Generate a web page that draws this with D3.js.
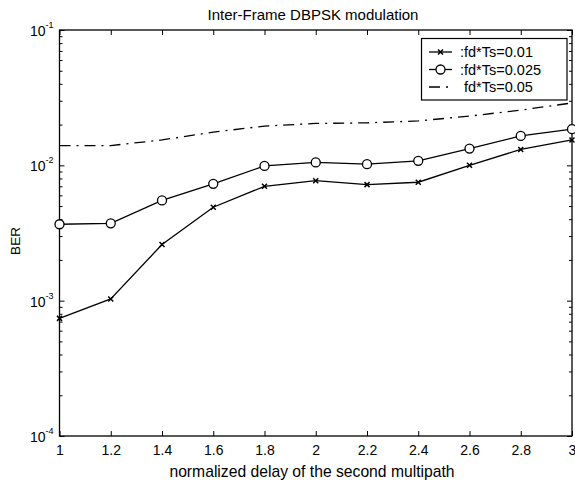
<!DOCTYPE html>
<html>
<head>
<meta charset="utf-8">
<script src="https://cdn.jsdelivr.net/npm/d3@7"></script>
<style>
  html, body { margin: 0; padding: 0; background: #fff; }
  svg { display: block; }
  text { font-family: "Liberation Sans", Arial, sans-serif; fill: #000; }
</style>
</head>
<body>
<svg id="chart" width="575" height="482"></svg>
<script>
// ---- data ----
const delays = [1, 1.2, 1.4, 1.6, 1.8, 2, 2.2, 2.4, 2.6, 2.8, 3];
const berFd001  = [7.4e-4, 1.03e-3, 2.6e-3, 4.9e-3, 7.0e-3, 7.7e-3, 7.2e-3, 7.5e-3, 1.0e-2, 1.31e-2, 1.54e-2];
const berFd0025 = [3.67e-3, 3.73e-3, 5.5e-3, 7.3e-3, 9.9e-3, 1.05e-2, 1.02e-2, 1.08e-2, 1.33e-2, 1.65e-2, 1.85e-2];
const berFd005  = [1.40e-2, 1.40e-2, 1.54e-2, 1.76e-2, 1.95e-2, 2.04e-2, 2.06e-2, 2.13e-2, 2.31e-2, 2.56e-2, 2.89e-2];
const seriesNames = [":fd*Ts=0.01", ":fd*Ts=0.025", "fd*Ts=0.05"];
const xTickValues = [1, 1.2, 1.4, 1.6, 1.8, 2, 2.2, 2.4, 2.6, 2.8, 3];
const xTickLabels = ["1", "1.2", "1.4", "1.6", "1.8", "2", "2.2", "2.4", "2.6", "2.8", "3"];
const yTickValues = [1e-4, 1e-3, 1e-2, 1e-1];
const yTickExponents = ["-4", "-3", "-2", "-1"];
const titleText = "Inter-Frame DBPSK modulation";
const xLabelText = "normalized delay of the second multipath";
const yLabelText = "BER";

// ---- layout ----
const L = 59.5, R = 572, T = 30, B = 436;
const svg = d3.select("#chart");
const x = d3.scaleLinear().domain([1, 3]).range([L, R]);
const y = d3.scaleLog().domain([1e-4, 1e-1]).range([B, T]);

// minor log ticks
const minorY = [];
[1e-4, 1e-3, 1e-2].forEach(d => { for (let k = 2; k <= 9; k++) minorY.push(d * k); });

// bottom axis
const gx = svg.append("g").attr("transform", `translate(0,${B})`)
  .call(d3.axisBottom(x).tickValues(xTickValues)
    .tickFormat((d, i) => xTickLabels[i]).tickSizeInner(-5).tickSizeOuter(0).tickPadding(9));
gx.select(".domain").remove();
gx.selectAll("text").attr("fill", "#000").style("font-size", "14px").attr("y", 0).attr("dy", 0)
  .attr("transform", "translate(0,19)");
// top axis ticks
const gxt = svg.append("g").attr("transform", `translate(0,${T})`)
  .call(d3.axisTop(x).tickValues(xTickValues).tickFormat("").tickSizeInner(-5).tickSizeOuter(0));
gxt.select(".domain").remove();

// left axis
const gy = svg.append("g").attr("transform", `translate(${L},0)`)
  .call(d3.axisLeft(y).tickValues(yTickValues).tickFormat(() => "").tickSizeInner(-5).tickSizeOuter(0));
gy.select(".domain").remove();
gy.selectAll(".tick text").remove();
gy.selectAll(".tick").each(function(d, i) {
  const t = d3.select(this).append("text")
    .attr("x", -6).attr("y", 5.5).attr("text-anchor", "end").attr("fill", "#000")
    .style("font-size", "14px");
  t.append("tspan").text("10");
  t.append("tspan").attr("dy", "-8").style("font-size", "9px").text(yTickExponents[i]);
});
const gym = svg.append("g").attr("transform", `translate(${L},0)`)
  .call(d3.axisLeft(y).tickValues(minorY).tickFormat("").tickSizeInner(-3).tickSizeOuter(0));
gym.select(".domain").remove();

// right axis ticks
const gyr = svg.append("g").attr("transform", `translate(${R},0)`)
  .call(d3.axisRight(y).tickValues(yTickValues).tickFormat("").tickSizeInner(-5).tickSizeOuter(0));
gyr.select(".domain").remove();
const gyrm = svg.append("g").attr("transform", `translate(${R},0)`)
  .call(d3.axisRight(y).tickValues(minorY).tickFormat("").tickSizeInner(-3).tickSizeOuter(0));
gyrm.select(".domain").remove();

svg.selectAll(".tick line").attr("stroke", "#000").attr("stroke-width", 1);

// frame
svg.append("rect").attr("x", L).attr("y", T).attr("width", R - L).attr("height", B - T)
  .attr("fill", "none").attr("stroke", "#000").attr("stroke-width", 1.3);

// lines
const line = d3.line().x((d, i) => x(delays[i])).y(d => y(d));
const sw = 1.3;
svg.append("path").datum(berFd005).attr("d", line).attr("fill", "none")
  .attr("stroke", "#000").attr("stroke-width", sw).attr("stroke-dasharray", "11,6,2,6");
svg.append("path").datum(berFd0025).attr("d", line).attr("fill", "none")
  .attr("stroke", "#000").attr("stroke-width", sw);
svg.append("path").datum(berFd001).attr("d", line).attr("fill", "none")
  .attr("stroke", "#000").attr("stroke-width", sw);

// circle markers
svg.append("g").selectAll("circle").data(berFd0025).join("circle")
  .attr("cx", (d, i) => x(delays[i])).attr("cy", d => y(d)).attr("r", 4.5)
  .attr("fill", "#fff").attr("stroke", "#000").attr("stroke-width", 1.3);
// x markers
const xm = 2.5;
const crossPath = (cx, cy) => `M${cx - xm},${cy - xm}L${cx + xm},${cy + xm}M${cx - xm},${cy + xm}L${cx + xm},${cy - xm}`;
svg.append("g").selectAll("path").data(berFd001).join("path")
  .attr("d", (d, i) => crossPath(x(delays[i]), y(d)))
  .attr("stroke", "#000").attr("stroke-width", 1.5);

// legend
const lg = svg.append("g");
lg.append("rect").attr("x", 421.5).attr("y", 38.5).attr("width", 145.5).attr("height", 61.5)
  .attr("fill", "#fff").attr("stroke", "#000").attr("stroke-width", 1.2);
const rows = [52, 69.5, 87];
const lx1 = 429, lx2 = 452, lmx = 440.5;
lg.append("line").attr("x1", lx1).attr("x2", lx2).attr("y1", rows[0]).attr("y2", rows[0])
  .attr("stroke", "#000").attr("stroke-width", sw);
lg.append("path").attr("d", crossPath(lmx, rows[0])).attr("stroke", "#000").attr("stroke-width", 1.5);
lg.append("line").attr("x1", lx1).attr("x2", lx2).attr("y1", rows[1]).attr("y2", rows[1])
  .attr("stroke", "#000").attr("stroke-width", sw);
lg.append("circle").attr("cx", lmx).attr("cy", rows[1]).attr("r", 4.5)
  .attr("fill", "#fff").attr("stroke", "#000").attr("stroke-width", 1.3);
lg.append("line").attr("x1", lx1).attr("x2", lx2).attr("y1", rows[2]).attr("y2", rows[2])
  .attr("stroke", "#000").attr("stroke-width", sw).attr("stroke-dasharray", "11,6,2,6");
seriesNames.forEach((s, i) => {
  lg.append("text").attr("x", i === 2 ? 464 : 460).attr("y", rows[i] + 5).attr("fill", "#000")
    .style("font-size", "14.5px").text(s);
});

// title and labels
svg.append("text").attr("x", 313).attr("y", 20).attr("text-anchor", "middle").attr("fill", "#000")
  .style("font-size", "15px").text(titleText);
svg.append("text").attr("x", 312).attr("y", 477).attr("text-anchor", "middle").attr("fill", "#000")
  .style("font-size", "15.7px").text(xLabelText);
svg.append("text").attr("transform", "translate(20,241) rotate(-90)").attr("text-anchor", "middle")
  .attr("fill", "#000").style("font-size", "13.5px").text(yLabelText);
</script>
</body>
</html>
